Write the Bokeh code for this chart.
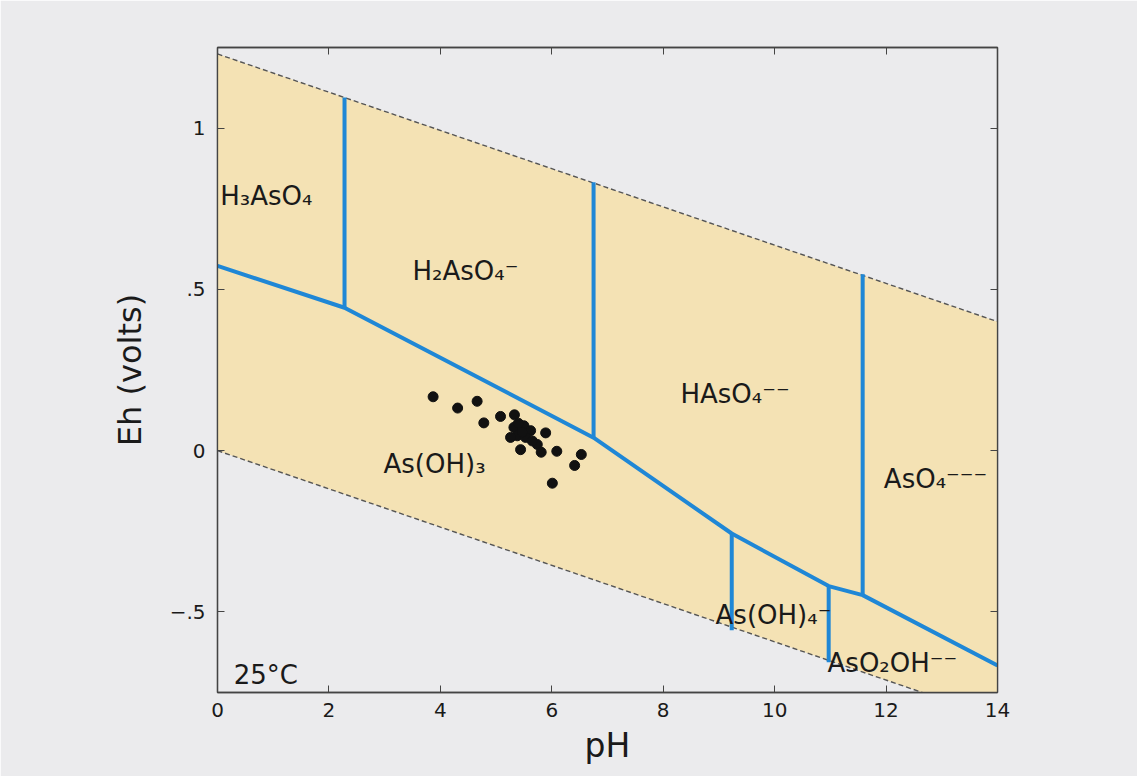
from bokeh.plotting import figure
from bokeh.models import LinearAxis, FixedTicker, Range1d, ColumnDataSource
from bokeh.core.properties import value
from bokeh.embed import file_html
from bokeh.resources import INLINE

# ---------------- data ----------------
ph_water = [0, 14]
eh_o2_line = [1.23, 0.40]      # upper stability limit of water
eh_h2_line = [0.00, -0.83]     # lower stability limit of water

bound_ph = [0, 2.28, 6.75, 9.23, 10.97, 11.58, 14]
bound_eh = [0.573, 0.443, 0.04, -0.257, -0.420, -0.448, -0.666]

vert_ph = [2.28, 6.75, 11.58, 9.23, 10.97]
vert_top = [1.095, 0.832, 0.547, -0.257, -0.420]
vert_bot = [0.443, 0.04, -0.448, -0.557, -0.656]

sample_ph = [3.87, 4.31, 4.66, 4.78, 5.08, 5.33, 5.32, 5.50, 5.62, 5.38, 5.53, 5.26,
             5.47, 5.89, 5.44, 5.74, 5.81, 6.09, 6.53, 6.41, 6.01, 5.40, 5.65]
sample_eh = [0.167, 0.132, 0.153, 0.086, 0.106, 0.111, 0.072, 0.077, 0.062, 0.046, 0.041, 0.041,
             0.057, 0.055, 0.003, 0.019, -0.005, -0.002, -0.012, -0.046, -0.101, 0.085, 0.030]

species = ["H₃AsO₄", "H₂AsO₄⁻", "HAsO₄⁻⁻", "AsO₄⁻⁻⁻", "As(OH)₃", "As(OH)₄⁻", "AsO₂OH⁻⁻", "25°C"]
species_ph = [0.05, 3.50, 8.31, 11.96, 2.98, 8.94, 10.95, 0.29]
species_eh = [0.79, 0.557, 0.176, -0.087, -0.04, -0.51, -0.66, -0.697]

x_ticks = [0, 2, 4, 6, 8, 10, 12, 14]
y_ticks = [-0.5, 0, 0.5, 1]
y_tick_labels = ["−.5", "0", ".5", "1"]

FONT = "DejaVu Sans"
BG = "#ebebed"
FILL = "#f4e2b4"
BLUE = "#1f87d6"
INK = "#1a1a1a"
FRAME = "#444444"

p = figure(width=1137, height=776, output_backend="svg", toolbar_location=None,
           x_range=Range1d(0, 14), y_range=Range1d(-0.75, 1.25),
           min_border_left=217, min_border_right=140, min_border_top=47, min_border_bottom=84,
           background_fill_color=BG, border_fill_color=BG)
p.grid.visible = False
p.outline_line_color = FRAME
p.outline_line_width = 1.3

# water stability field
p.patch(x=ph_water + ph_water[::-1], y=eh_o2_line + eh_h2_line[::-1],
        fill_color=FILL, line_color=None)
p.line(ph_water, eh_o2_line, line_color="#555555", line_width=1.4, line_dash="5 3")
p.line(ph_water, eh_h2_line, line_color="#555555", line_width=1.4, line_dash="5 3")

# species boundaries
p.line(bound_ph, bound_eh, line_color=BLUE, line_width=4)
p.segment(x0=vert_ph, y0=vert_top, x1=vert_ph, y1=vert_bot, line_color=BLUE, line_width=4)

# samples
p.scatter(sample_ph, sample_eh, size=10, color="#111111")

# labels
src = ColumnDataSource(dict(x=species_ph, y=species_eh, t=species))
p.text(x="x", y="y", text="t", source=src, text_font=value(FONT),
       text_font_size="26px", text_color=INK, text_baseline="alphabetic", text_align="left")

# axes
for ax in (p.xaxis[0], p.yaxis[0]):
    ax.major_tick_in = 7
    ax.major_tick_out = 0
    ax.minor_tick_line_color = None
    ax.axis_line_color = FRAME
    ax.axis_line_width = 1.3
    ax.major_tick_line_color = FRAME
    ax.major_label_text_font = FONT
    ax.major_label_text_font_size = "20px"
    ax.major_label_text_color = INK
    ax.axis_label_text_font = FONT
    ax.axis_label_text_font_style = "normal"
    ax.axis_label_text_color = INK

p.xaxis.ticker = FixedTicker(ticks=x_ticks)
p.yaxis.ticker = FixedTicker(ticks=y_ticks)
p.yaxis.major_label_overrides = {t: s for t, s in zip(y_ticks, y_tick_labels)}
p.xaxis.axis_label = "pH"
p.xaxis.axis_label_text_font_size = "33px"
p.xaxis.major_label_standoff = 10
p.xaxis.axis_label_standoff = 6
p.yaxis.axis_label = "Eh (volts)"
p.yaxis.axis_label_text_font_size = "32px"
p.yaxis.major_label_standoff = 12
p.yaxis.axis_label_standoff = 18

top = LinearAxis(ticker=FixedTicker(ticks=x_ticks), major_label_text_color=None,
                 major_tick_in=7, major_tick_out=0, minor_tick_line_color=None,
                 axis_line_color=FRAME, axis_line_width=1.3, major_tick_line_color=FRAME)
right = LinearAxis(ticker=FixedTicker(ticks=y_ticks), major_label_text_color=None,
                   major_tick_in=7, major_tick_out=0, minor_tick_line_color=None,
                   axis_line_color=FRAME, axis_line_width=1.3, major_tick_line_color=FRAME)
p.add_layout(top, "above")
p.add_layout(right, "right")

open("out.html", "w").write(file_html(p, INLINE))
